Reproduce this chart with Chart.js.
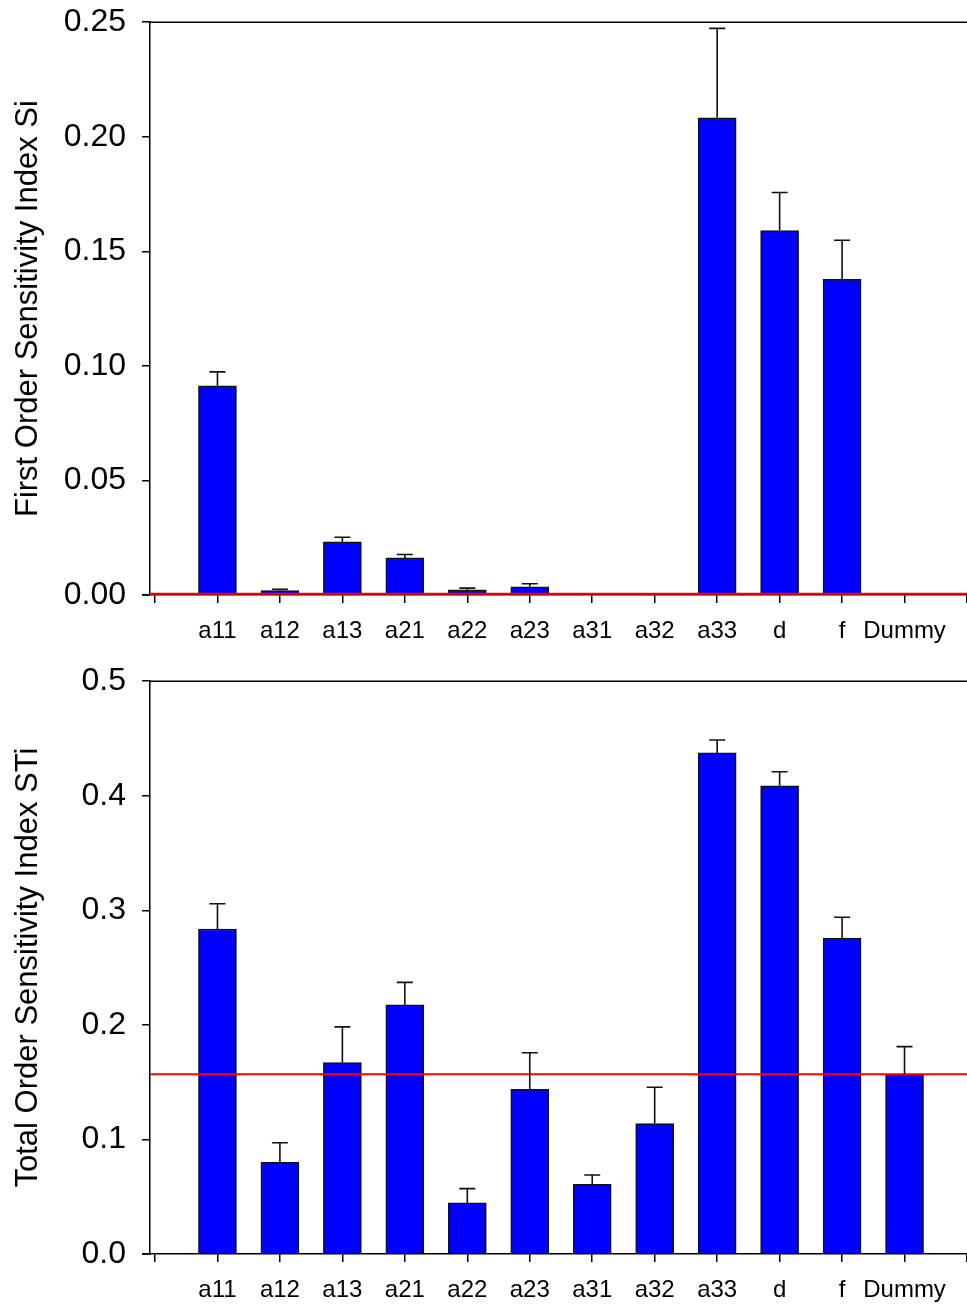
<!DOCTYPE html>
<html>
<head>
<meta charset="utf-8">
<script src="https://cdn.jsdelivr.net/npm/chart.js@4.4.1/dist/chart.umd.min.js"></script>
<style>
  html, body { margin: 0; padding: 0; background: #fff; }
  #wrap { position: relative; width: 967px; height: 1304px; overflow: hidden; }
  canvas { position: absolute; left: 0; }
  #topChart { top: -13px; }
  #bottomChart { top: 646px; }
</style>
</head>
<body>
<div id="wrap">
  <canvas id="topChart" width="967" height="663"></canvas>
  <canvas id="bottomChart" width="967" height="658"></canvas>
</div>
<script>
// --- DATA ---
const categories = ['a11', 'a12', 'a13', 'a21', 'a22', 'a23', 'a31', 'a32', 'a33', 'd', 'f', 'Dummy'];

const firstOrder    = [0.0913, 0.0019, 0.0232, 0.0162, 0.0023, 0.0036, 0, 0, 0.2083, 0.1591, 0.1378, 0.0005];
const firstOrderErr = [0.0061, 0.0006, 0.0020, 0.0015, 0.0007, 0.0013, 0, 0, 0.0390, 0.0166, 0.0170, 0];

const totalOrder    = [0.2837, 0.0800, 0.1670, 0.2174, 0.0446, 0.1438, 0.0609, 0.1139, 0.4374, 0.4087, 0.2757, 0.1570];
const totalOrderErr = [0.0221, 0.0171, 0.0313, 0.0197, 0.0125, 0.0319, 0.0081, 0.0316, 0.0113, 0.0122, 0.0182, 0.0240];

const firstOrderTicks = [0, 0.05, 0.10, 0.15, 0.20, 0.25];
const totalOrderTicks = [0, 0.1, 0.2, 0.3, 0.4, 0.5];

const FONT = "'Liberation Sans', Arial, Helvetica, sans-serif";

// --- PLUGINS ---
// error bars (upper only) drawn from the bar top through the library's scales
const errorBarPlugin = {
    id: 'errorBars',
    afterDatasetsDraw(chart, args, opts) {
        const { ctx, scales: { x, y } } = chart;
        const vals = opts.values, errs = opts.errors;
        ctx.save();
        ctx.strokeStyle = '#111';
        ctx.lineWidth = 1.6;
        vals.forEach((v, i) => {
            if (!errs[i]) return;
            const px = x.getPixelForValue(i + 1);
            const y0 = y.getPixelForValue(v);
            const y1 = y.getPixelForValue(v + errs[i]);
            ctx.beginPath();
            ctx.moveTo(px, y0);
            ctx.lineTo(px, y1);
            ctx.moveTo(px - 8, y1);
            ctx.lineTo(px + 8, y1);
            ctx.stroke();
        });
        ctx.restore();
    }
};

// top frame line and the small left overhang of the x axis
const framePlugin = {
    id: 'frame',
    afterDraw(chart) {
        const { ctx, chartArea: a } = chart;
        ctx.save();
        ctx.strokeStyle = '#000';
        ctx.lineWidth = 1.5;
        ctx.beginPath();
        ctx.moveTo(a.left, a.top);
        ctx.lineTo(a.right, a.top);
        ctx.moveTo(a.left - 8, a.bottom);
        ctx.lineTo(a.left, a.bottom);
        ctx.stroke();
        ctx.restore();
    }
};

function makeChart(id, values, errors, ticks, decimals, yTitle, xHeight) {
    const ctx = document.getElementById(id).getContext('2d');
    const refValue = values[values.length - 1];   // Dummy level
    return new Chart(ctx, {
        data: {
            datasets: [
                {
                    type: 'line',
                    data: [{ x: -0.08, y: refValue }, { x: 13, y: refValue }],
                    borderColor: '#ff0000',
                    borderWidth: 2,
                    pointRadius: 0,
                    order: 1,
                },
                {
                    type: 'bar',
                    data: values.map((v, i) => ({ x: i + 1, y: v })),
                    backgroundColor: '#0000ff',
                    borderColor: '#111',
                    borderWidth: 1.5,
                    barThickness: 38,
                    order: 2,
                }
            ]
        },
        options: {
            responsive: false,
            animation: false,
            devicePixelRatio: 1,
            layout: { padding: 0 },
            plugins: {
                legend: { display: false },
                tooltip: { enabled: false },
                errorBars: { values: values, errors: errors },
            },
            scales: {
                x: {
                    type: 'linear',
                    offset: false,
                    min: -0.08,
                    max: 13,
                    afterBuildTicks: (scale) => {
                        scale.ticks = Array.from({ length: 14 }, (_, i) => ({ value: i }));
                    },
                    afterFit: (scale) => {
                        scale.height = xHeight;
                        scale.paddingLeft = 0;
                        scale.paddingRight = 0;
                    },
                    ticks: {
                        autoSkip: false,
                        maxRotation: 0,
                        padding: 14,
                        color: '#000',
                        font: { family: FONT, size: 24 },
                        callback: (v) => (v >= 1 && v <= 12 ? categories[v - 1] : ''),
                    },
                    grid: { offset: false, drawOnChartArea: false, drawTicks: true, tickLength: 8, color: '#000', lineWidth: 1.5 },
                    border: { display: true, color: '#000', width: 1.5 },
                },
                y: {
                    min: 0,
                    max: ticks[ticks.length - 1],
                    afterBuildTicks: (scale) => {
                        scale.ticks = ticks.map(v => ({ value: v }));
                    },
                    afterFit: (scale) => { scale.width = 150; },
                    ticks: {
                        padding: 16,
                        color: '#000',
                        font: { family: FONT, size: 32 },
                        callback: (v) => Number(v).toFixed(decimals),
                    },
                    grid: { drawOnChartArea: false, drawTicks: true, tickLength: 8, color: '#000', lineWidth: 1.5 },
                    border: { display: true, color: '#000', width: 1.5 },
                    title: {
                        display: true,
                        text: yTitle,
                        color: '#000',
                        padding: { top: 10, bottom: 0 },
                        font: { family: FONT, size: 31 },
                    },
                }
            }
        },
        plugins: [errorBarPlugin, framePlugin]
    });
}

document.addEventListener('DOMContentLoaded', () => {
    makeChart('topChart', firstOrder, firstOrderErr, firstOrderTicks, 2,
        'First Order Sensitivity Index Si', 55);
    makeChart('bottomChart', totalOrder, totalOrderErr, totalOrderTicks, 1,
        'Total Order Sensitivity Index STi', 50);
});
</script>
</body>
</html>
